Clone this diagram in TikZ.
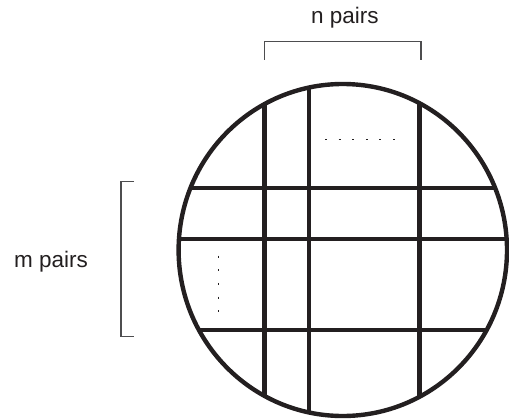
\documentclass[tikz,border=0pt]{standalone}
\usepackage{fontspec}
\setmainfont{Liberation Sans}
\definecolor{ink}{HTML}{231F20}
\definecolor{brk}{HTML}{4D4D4F}
\begin{document}
\begin{tikzpicture}[x=1pt,y=-1pt,
  gridline/.style={line width=4.4pt,draw=ink},
  rim/.style={line width=4.4pt,draw=ink},
  bracket/.style={line width=1.1pt,draw=brk},
  dotrow/.style={draw=ink,line width=1.3pt,dash pattern=on 2pt off 11.6pt},
  label/.style={font=\fontsize{22.5}{22.5}\selectfont,text=ink,inner sep=0pt,anchor=base}]
\useasboundingbox (0,0) rectangle (509,420);
% grid clipped to the disc
\begin{scope}
  \clip (342.8,250) ellipse [x radius=164.2, y radius=166];
  \foreach \x in {264.3,308.7,419.3}
    \draw[gridline] (\x,70) -- (\x,430);
  \foreach \y in {187.7,239,330}
    \draw[gridline] (170,\y) -- (515,\y);
\end{scope}
\draw[rim] (342.8,250) ellipse [x radius=164.2, y radius=166];
% dots
\draw[dotrow] (325,139.3) -- (397,139.3);
\draw[dotrow] (218.5,255.7) -- (218.5,312);
% brackets
\draw[bracket] (264.3,60) -- (264.3,41.7) -- (421,41.7) -- (421,60);
\draw[bracket] (134,181.7) -- (121,181.7) -- (121,336.7) -- (134,336.7);
% labels
\node[label] (npairs) at (345,23.3) {n pairs};
\node[label] (mpairs) at (51,267) {m pairs};
\end{tikzpicture}
\end{document}
